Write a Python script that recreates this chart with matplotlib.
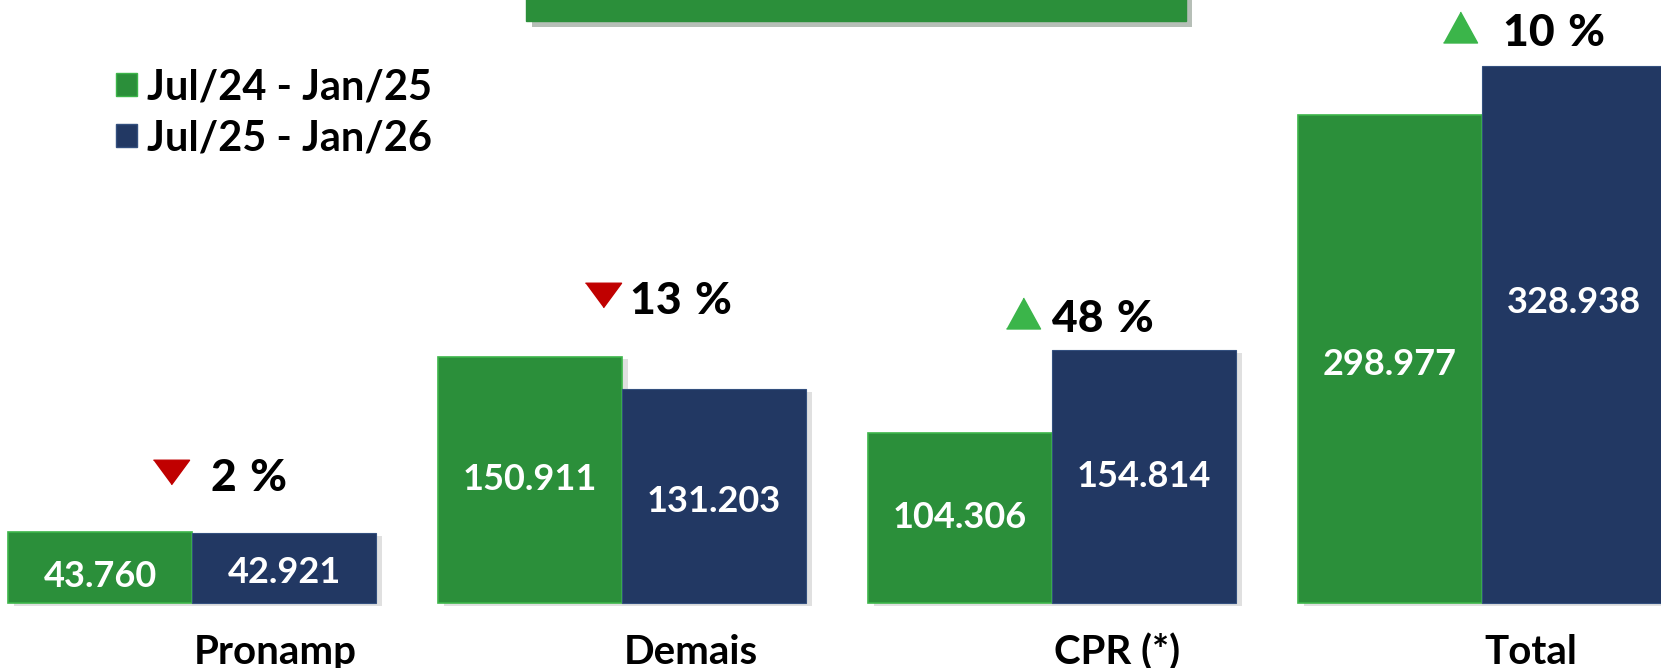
import numpy as np
import matplotlib
matplotlib.use("Agg")
import matplotlib.pyplot as plt
import matplotlib.patheffects as pe
from matplotlib.patches import Rectangle

categories = ["Pronamp", "Demais", "CPR (*)", "Total"]
serie_24 = [43760, 150911, 104306, 298977]
serie_25 = [42921, 131203, 154814, 328938]
labels_24 = ["43.760", "150.911", "104.306", "298.977"]
labels_25 = ["42.921", "131.203", "154.814", "328.938"]
legend_labels = ["Jul/24 - Jan/25", "Jul/25 - Jan/26"]
variacao = [2, 13, 48, 10]
subiu = [False, False, True, True]

verde = "#2B8F3A"
azul = "#223863"
seta_verde = "#3BB54A"
seta_vermelha = "#C00000"

plt.rcParams['font.family'] = ['Lato', 'DejaVu Sans']

fig = plt.figure(figsize=(16.61, 6.68), dpi=100)
ax = fig.add_axes([0, 0, 1, 1])
ax.set_xlim(-0.4465, 3.416)
ax.set_ylim(-39800, 369260)
ax.axis('off')

x = np.arange(len(categories))
w = 0.428
sombra = [pe.withSimplePatchShadow(offset=(4, -2), shadow_rgbFace='#999999', alpha=0.3)]

ax.bar(x - w/2, serie_24, w, color=verde, edgecolor='#3DB54A', linewidth=1.2,
       path_effects=sombra, zorder=2)
ax.bar(x + w/2, serie_25, w, color=azul, edgecolor='#34507F', linewidth=0.8,
       path_effects=sombra, zorder=3)

# ajuste fino da posicao vertical dos numeros (pixels)
desl_24 = [-9, 0, 0, -6]
desl_25 = [-5, -6, 0, 32]
for i in range(len(categories)):
    ax.annotate(labels_24[i], (x[i] - w/2, serie_24[i] / 2), xytext=(0, desl_24[i]),
                textcoords='offset pixels', ha='center', va='center',
                color='white', fontsize=26, fontweight='bold', zorder=5)
    ax.annotate(labels_25[i], (x[i] + w/2, serie_25[i] / 2), xytext=(0, desl_25[i]),
                textcoords='offset pixels', ha='center', va='center',
                color='white', fontsize=26, fontweight='bold', zorder=5)

# variacao percentual acima das barras
altura_seta = [60, 62, 37, 39]
desl_seta = [-21, -19, -29, -22]
desl_texto = [19, 8, 0, 21]
tri_baixo = [(-1, 0.68), (1, 0.68), (0, -0.68)]
tri_cima = [(-1, -0.91), (1, -0.91), (0, 0.91)]
for i in range(len(categories)):
    topo = max(serie_24[i], serie_25[i])
    cor = seta_verde if subiu[i] else seta_vermelha
    mk = tri_cima if subiu[i] else tri_baixo
    ms = 24.5 if subiu[i] else 26
    ax.plot([x[i] + desl_seta[i] / 430], [topo + altura_seta[i] * 1000 / 1.633],
            marker=mk, color=cor, markersize=ms, linestyle='none', zorder=6)
    ax.annotate(f"{variacao[i]} \u200a%", (x[i], topo), xytext=(desl_texto[i], altura_seta[i] - 6),
                textcoords='offset pixels', ha='left', va='center',
                fontsize=32, fontweight='black', color='black')

# nomes das categorias
for i in range(len(categories)):
    ax.annotate(categories[i], (x[i], 0), xytext=(2, -31), textcoords='offset pixels',
                ha='left', va='top', fontsize=29, fontweight='bold', color='black')

# faixa verde do titulo (cortada no topo)
ax.add_patch(Rectangle((526/1661, 1 - 21/668), 660/1661, 30/668, transform=ax.transAxes,
                       color=verde, clip_on=False, zorder=4,
                       path_effects=[pe.withSimplePatchShadow(offset=(4, -4), alpha=0.3)]))

handles = [Rectangle((0, 0), 1, 1, facecolor=verde, edgecolor='#3DB54A', linewidth=1),
           Rectangle((0, 0), 1, 1, facecolor=azul, edgecolor='#34507F', linewidth=1)]
leg = ax.legend(handles, legend_labels, loc='upper left', bbox_to_anchor=(116/1661, 1 - 68/668),
                frameon=False, prop={'weight': 'bold', 'size': 30},
                handlelength=0.5, handleheight=0.48, handletextpad=0.24,
                labelspacing=0.32, borderpad=0, borderaxespad=0)

fig.savefig("out.png", dpi=100)
